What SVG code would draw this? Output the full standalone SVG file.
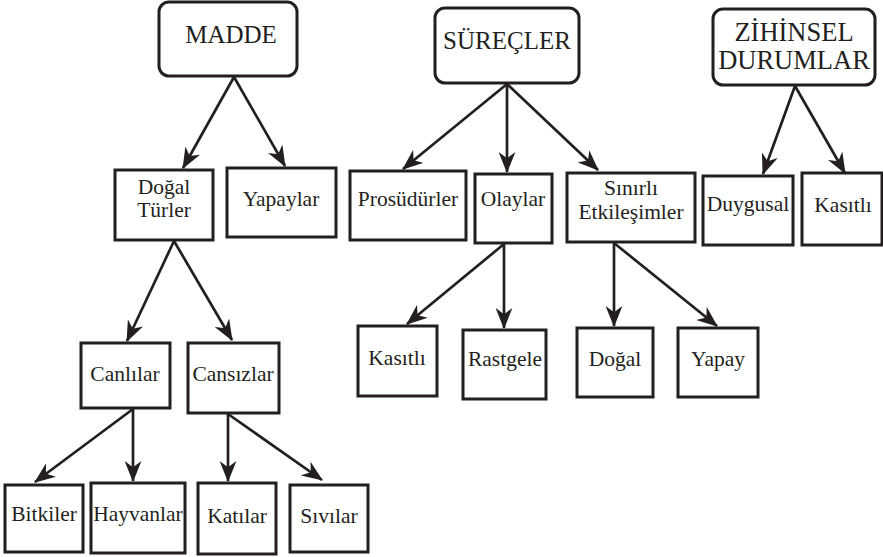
<svg xmlns="http://www.w3.org/2000/svg" width="883" height="557" viewBox="0 0 883 557">
<style>
.box{fill:#fff;stroke:#231f20;stroke-width:3}
.t{font-family:'Liberation Serif','DejaVu Serif',serif;font-size:21.5px;fill:#231f20;text-anchor:middle}
.h{font-family:'Liberation Serif','DejaVu Serif',serif;font-size:25px;fill:#231f20;text-anchor:middle}
.hz{font-size:26.5px}
.e{stroke:#231f20;stroke-width:2.7;fill:none;marker-end:url(#ah)}
</style>
<defs>
<marker id="ah" viewBox="0 0 20 16" refX="19" refY="8" markerWidth="21" markerHeight="17" markerUnits="userSpaceOnUse" orient="auto">
<path d="M0,0 L20,8 L0,16 L6,8 Z" fill="#231f20"/>
</marker>
</defs>
<rect width="883" height="557" fill="#fff"/>
<g id="connectors">
<line class="e" x1="234" y1="77" x2="183" y2="168"/>
<line class="e" x1="234" y1="77" x2="285" y2="166"/>
<line class="e" x1="507" y1="84" x2="403" y2="169"/>
<line class="e" x1="507" y1="84" x2="507" y2="172"/>
<line class="e" x1="507" y1="84" x2="598" y2="170"/>
<line class="e" x1="795" y1="86" x2="763" y2="174"/>
<line class="e" x1="795" y1="86" x2="845" y2="173"/>
<line class="e" x1="174" y1="241" x2="127" y2="341"/>
<line class="e" x1="174" y1="241" x2="232" y2="340"/>
<line class="e" x1="133" y1="409" x2="35" y2="482"/>
<line class="e" x1="133" y1="409" x2="133" y2="481"/>
<line class="e" x1="228" y1="414" x2="228" y2="481"/>
<line class="e" x1="228" y1="414" x2="322" y2="480"/>
<line class="e" x1="504" y1="244" x2="407" y2="324"/>
<line class="e" x1="504" y1="244" x2="504" y2="328"/>
<line class="e" x1="614" y1="243" x2="614" y2="326"/>
<line class="e" x1="614" y1="243" x2="717" y2="326"/>
</g>
<g id="madde"><rect class="box" x="159" y="2" width="138" height="74" rx="10"/><text class="h" x="231" y="43">MADDE</text></g>
<g id="surecler"><rect class="box" x="435" y="8" width="144" height="75" rx="10"/><text class="h" x="507" y="49">SÜREÇLER</text></g>
<g id="zihinsel"><rect class="box" x="713" y="9" width="162" height="76" rx="10"/><text class="h hz" x="794" y="41">ZİHİNSEL</text><text class="h hz" x="794" y="69">DURUMLAR</text></g>
<g id="dogal-turler"><rect class="box" x="115" y="170" width="98" height="70"/><text class="t" x="164" y="194">Doğal</text><text class="t" x="164" y="217">Türler</text></g>
<g id="yapaylar"><rect class="box" x="227" y="168" width="109" height="69"/><text class="t" x="281" y="206">Yapaylar</text></g>
<g id="prosudurler"><rect class="box" x="350" y="171" width="116" height="69"/><text class="t" x="408" y="206">Prosüdürler</text></g>
<g id="olaylar"><rect class="box" x="475" y="174" width="77" height="69"/><text class="t" x="513" y="206">Olaylar</text></g>
<g id="sinirli"><rect class="box" x="567" y="173" width="128" height="69"/><text class="t" x="631" y="195">Sınırlı</text><text class="t" x="631" y="219">Etkileşimler</text></g>
<g id="duygusal"><rect class="box" x="703" y="176" width="90" height="69"/><text class="t" x="748" y="211">Duygusal</text></g>
<g id="kasitli1"><rect class="box" x="802" y="173" width="80" height="72"/><text class="t" x="843" y="212">Kasıtlı</text></g>
<g id="canlilar"><rect class="box" x="81" y="343" width="89" height="65"/><text class="t" x="125" y="381">Canlılar</text></g>
<g id="cansizlar"><rect class="box" x="188" y="343" width="91" height="70"/><text class="t" x="233" y="381">Cansızlar</text></g>
<g id="bitkiler"><rect class="box" x="5" y="485" width="78" height="67"/><text class="t" x="44" y="521">Bitkiler</text></g>
<g id="hayvanlar"><rect class="box" x="91" y="483" width="94" height="70"/><text class="t" x="138" y="521">Hayvanlar</text></g>
<g id="katilar"><rect class="box" x="198" y="483" width="78" height="71"/><text class="t" x="237" y="523">Katılar</text></g>
<g id="sivilar"><rect class="box" x="290" y="485" width="78" height="67"/><text class="t" x="329" y="523">Sıvılar</text></g>
<g id="kasitli2"><rect class="box" x="358" y="326" width="79" height="70"/><text class="t" x="397" y="365">Kasıtlı</text></g>
<g id="rastgele"><rect class="box" x="463" y="330" width="83" height="69"/><text class="t" x="505" y="366">Rastgele</text></g>
<g id="dogal"><rect class="box" x="577" y="328" width="76" height="69"/><text class="t" x="615" y="366">Doğal</text></g>
<g id="yapay"><rect class="box" x="678" y="328" width="80" height="69"/><text class="t" x="718" y="366">Yapay</text></g>
</svg>
